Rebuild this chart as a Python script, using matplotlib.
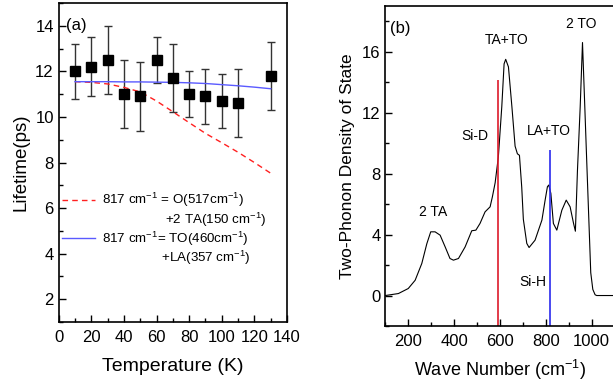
import matplotlib
matplotlib.use('Agg')
import matplotlib.pyplot as plt
from matplotlib.lines import Line2D
from matplotlib.ticker import MultipleLocator

plt.rcParams['font.family'] = ['Liberation Sans', 'DejaVu Sans']
plt.rcParams['mathtext.fontset'] = 'custom'
plt.rcParams['mathtext.rm'] = 'Liberation Sans'

# ---- panel (a): lifetime vs temperature
temp = [10, 20, 30, 40, 50, 60, 70, 80, 90, 100, 110, 130]
life = [12.0, 12.2, 12.5, 11.0, 10.9, 12.5, 11.7, 11.0, 10.9, 10.7, 10.6, 11.8]
err_up = [13.2, 13.5, 14.0, 12.5, 12.4, 13.5, 13.2, 12.0, 12.1, 11.9, 12.1, 13.3]
err_lo = [10.8, 10.9, 11.0, 9.5, 9.4, 11.5, 10.2, 10.0, 9.7, 9.5, 9.1, 10.3]

fit_t = [10, 20, 30, 40, 50, 60, 70, 80, 90, 100, 110, 120, 130]
fit_o_2ta = [11.55, 11.52, 11.45, 11.3, 11.1, 10.7, 10.23, 9.75, 9.28, 8.87, 8.45, 8.0, 7.53]
fit_to_la = [11.55, 11.55, 11.55, 11.54, 11.54, 11.53, 11.52, 11.5, 11.47, 11.42, 11.37, 11.31, 11.24]

# ---- panel (b): two-phonon DOS
wn = [100, 157, 200, 230, 259, 281, 298, 317, 339, 361, 382, 397, 419, 448, 477,
      495, 513, 535, 557, 567, 579, 593, 608, 618, 625, 637, 652, 666, 676, 685,
      695, 702, 717, 727, 753, 783, 797, 807, 813, 822, 833, 848, 870, 889, 906,
      921, 929, 938, 950, 960, 970, 978, 984, 990, 996, 1005, 1015, 1022, 1100]
dos = [0.0, 0.13, 0.46, 1.0, 2.1, 3.4, 4.18, 4.18, 3.96, 3.19, 2.43, 2.32, 2.43, 3.19, 4.25,
       4.29, 4.73, 5.49, 5.82, 6.48, 7.4, 9.1, 12.4, 15.2, 15.5, 15.0, 12.4, 9.8, 9.3, 9.2,
       7.1, 5.0, 3.42, 3.15, 3.63, 4.95, 6.26, 7.14, 7.25, 6.7, 4.73, 4.29, 5.6, 6.26, 5.82,
       4.73, 4.22, 8.2, 12.4, 16.6, 12.4, 9.0, 6.5, 4.0, 1.5, 0.4, 0.05, 0.0, 0.0]

si_d = 590
si_d_top = 14.14
si_h = 817
si_h_top = 9.54

fig = plt.figure(figsize=(6.13, 3.87), dpi=100)

ax1 = fig.add_axes([0.0958, 0.168, 0.3724, 0.824])
yerr = [[l - lo for l, lo in zip(life, err_lo)], [up - l for l, up in zip(life, err_up)]]
ax1.errorbar(temp, life, yerr=yerr, fmt='s', color='black', ms=7, ecolor='#333333',
             elinewidth=1, capsize=3, capthick=1)
l1, = ax1.plot(fit_t, fit_o_2ta, '--', color='#ff2020', lw=1, dashes=(4, 3))
l2, = ax1.plot(fit_t, fit_to_la, '-', color='#5a5aff', lw=1)
blank = Line2D([], [], color='none')
ax1.legend([l1, blank, l2, blank],
           ['817 cm$^{-1}$ = O(517cm$^{-1}$)',
            '                 +2 TA(150 cm$^{-1}$)',
            '817 cm$^{-1}$= TO(460cm$^{-1}$)',
            '                +LA(357 cm$^{-1}$)'],
           loc='upper left', bbox_to_anchor=(0.015, 0.41), frameon=False,
           fontsize=9.6, handlelength=2.5, handletextpad=0.5, labelspacing=0.08,
           borderpad=0, borderaxespad=0)
ax1.set_xlim(0, 140)
ax1.set_ylim(1, 15)
ax1.xaxis.set_major_locator(MultipleLocator(20))
ax1.xaxis.set_minor_locator(MultipleLocator(10))
ax1.yaxis.set_major_locator(MultipleLocator(2))
ax1.yaxis.set_minor_locator(MultipleLocator(1))
ax1.set_xlabel('Temperature (K)', fontsize=14, labelpad=9)
ax1.set_ylabel('Lifetime(ps)', fontsize=13.5, labelpad=4)
ax1.text(4.5, 14, '(a)', fontsize=12, va='center', ha='left')

ax2 = fig.add_axes([0.6286, 0.1576, 0.374, 0.827])
ax2.plot(wn, dos, color='black', lw=0.8)
ax2.vlines(si_d, -2, si_d_top, color='#dd1a2a', lw=1.2)
ax2.vlines(si_h, -2, si_h_top, color='#2a2aee', lw=1.2)
ax2.set_xlim(100, 1100)
ax2.set_ylim(-2, 19)
ax2.xaxis.set_major_locator(MultipleLocator(200))
ax2.xaxis.set_minor_locator(MultipleLocator(100))
ax2.yaxis.set_major_locator(MultipleLocator(4))
ax2.yaxis.set_minor_locator(MultipleLocator(2))
ax2.set_xlabel('Wave Number (cm$^{-1}$)', fontsize=13, labelpad=6)
ax2.set_ylabel('Two-Phonon Density of State', fontsize=12.5, labelpad=5)
ax2.text(164, 17.55, '(b)', fontsize=12, ha='center', va='center')
ax2.text(631, 16.77, 'TA+TO', fontsize=10, ha='center', va='center')
ax2.text(953, 17.8, '2 TO', fontsize=10, ha='center', va='center')
ax2.text(491, 10.5, 'Si-D', fontsize=10, ha='center', va='center')
ax2.text(814, 10.8, 'LA+TO', fontsize=10, ha='center', va='center')
ax2.text(308, 5.5, '2 TA', fontsize=10, ha='center', va='center')
ax2.text(744, 0.9, 'Si-H', fontsize=10, ha='center', va='center')

for ax in (ax1, ax2):
    ax.tick_params(which='both', direction='in', labelsize=12, width=1)
    ax.tick_params(which='major', length=5)
    ax.tick_params(which='minor', length=3)
    ax.tick_params(axis='x', pad=6)
    for s in ax.spines.values():
        s.set_linewidth(1.2)

fig.savefig('out.png', dpi=100)
